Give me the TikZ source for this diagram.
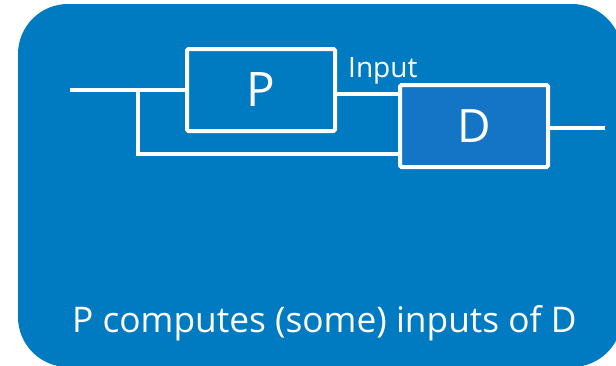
\documentclass[tikz,border=0pt]{standalone}
\usepackage{fontspec}
\setmainfont{Open Sans}
\definecolor{panelblue}{RGB}{0,122,193}
\definecolor{boxblue}{RGB}{20,117,198}
\begin{document}
\begin{tikzpicture}[x=1pt,y=-1pt,
  wire/.style={draw=white,line width=4pt},
  block/.style={draw=white,line width=4pt,rounded corners=1.5pt,inner sep=0pt,
    minimum width=148pt,minimum height=82pt,text=white},
  caption/.style={text=white,inner sep=0pt,anchor=base west}]
  \useasboundingbox (0,0) rectangle (616,365);
  % background panel, partly running off the page
  \begin{scope}
    \clip (0,0) rectangle (616,365);
    \fill[panelblue,rounded corners=50pt] (18,4) rectangle (622,367);
  \end{scope}
  % the two blocks
  \node[block] (P) at (261,90) {\fontsize{47.6}{50}\selectfont P};
  \node[block,fill=boxblue] (D) at (474,126) {\fontsize{46}{48}\selectfont D};
  % wiring
  \coordinate (in) at (70,90);
  \coordinate (split) at (138,90);
  \coordinate (out) at (605,127.5);
  \draw[wire] (in) -- (P.west);
  \draw[wire,line join=miter] (split) |- ([yshift=-28pt]D.west);
  \draw[wire] ([yshift=-3.5pt]P.east) -- ([yshift=-3.5pt]P.east -| D.west);
  \draw[wire] (D.east |- out) -- (out);
  % labels
  \node[caption] (lbl) at (348,77) {\fontsize{28}{30}\selectfont Input};
  \node[caption] (cap) at (72,332) {\fontsize{35.3}{38}\selectfont P computes (some) inputs of D};
\end{tikzpicture}
\end{document}
